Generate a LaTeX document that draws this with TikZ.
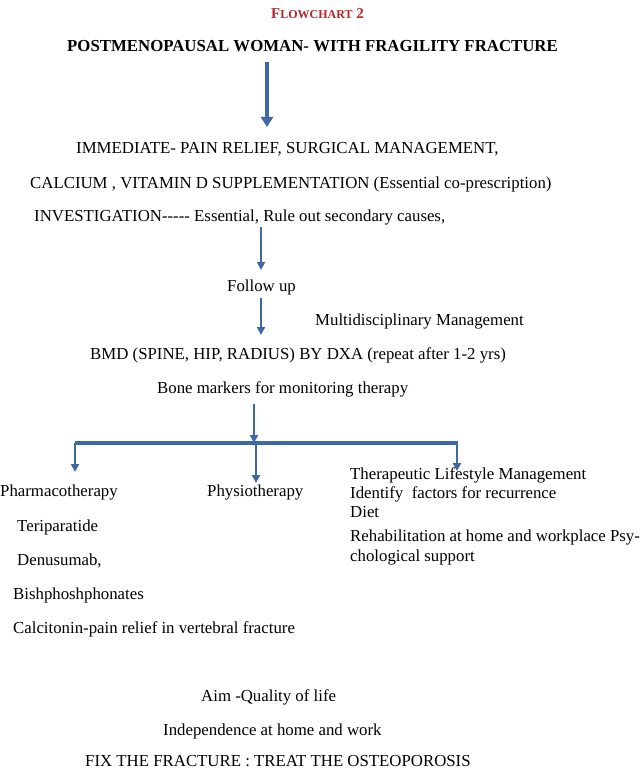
\documentclass[tikz,border=0pt]{standalone}
\usepackage{fontspec}
\setmainfont{Liberation Serif}
\usetikzlibrary{arrows.meta}
\definecolor{flowblue}{RGB}{62,104,166}
\definecolor{chartred}{RGB}{180,36,40}
\tikzset{
  line/.style={anchor=base west, inner sep=0pt},
  flow/.style={draw=flowblue, line width=2.4pt, -{Triangle[width=8pt,length=8pt]}},
  bigflow/.style={flow, line width=4pt, -{Triangle[width=12pt,length=10pt]}},
  bar/.style={draw=flowblue, line width=3.5pt}
}
\newcommand{\fakesc}[1]{{\fontsize{12}{14}\selectfont #1}}

\begin{document}
\begin{tikzpicture}[x=1pt, y=-1pt, font=\fontsize{16.8}{20}\selectfont]
\useasboundingbox (0,0) rectangle (641,770);
% heading
\node[line, text=chartred, font=\fontsize{15}{18}\selectfont\bfseries] (chart) at (271,19) {F\fakesc{LOWCHART} 2};
\node[line, font=\fontsize{16.8}{20}\selectfont\bfseries] (woman) at (67,51.5) {POSTMENOPAUSAL WOMAN- WITH FRAGILITY FRACTURE};

% first steps
\node[line] (immediate) at (76,154) {IMMEDIATE- PAIN RELIEF, SURGICAL MANAGEMENT,};
\node[line] (calcium) at (30,188) {CALCIUM , VITAMIN D SUPPLEMENTATION (Essential co-prescription)};
\node[line] (invest) at (34,221.5) {INVESTIGATION-{}-{}-{}-{}- Essential, Rule out secondary causes,};
\node[line] (follow) at (227,291) {Follow up};
\node[line] (multi) at (315,325) {Multidisciplinary Management};
\node[line] (bmd) at (90,359) {BMD (SPINE, HIP, RADIUS) BY DXA (repeat after 1-2 yrs)};
\node[line] (bone) at (157,393) {Bone markers for monitoring therapy};

% three branches
\node[line] (pharma) at (0,496) {Pharmacotherapy};
\node[line] (terip) at (17,531) {Teriparatide};
\node[line] (denos) at (17,565) {Denusumab,};
\node[line] (bisph) at (13,599) {Bishphoshphonates};
\node[line] (calci) at (13,633) {Calcitonin-pain relief in vertebral fracture};
\node[line] (physio) at (207,496) {Physiotherapy};
\node[line] (tlm) at (350,479) {Therapeutic Lifestyle Management};
\node[line] (recur) at (350,498.5) {Identify\ \ factors for recurrence};
\node[line] (diet) at (350,517) {Diet};
\node[line] (rehab) at (350,541) {Rehabilitation at home and workplace Psy-};
\node[line] (psych) at (350,561.5) {chological support};

% aim
\node[line] (aim) at (201,701) {Aim -Quality of life};
\node[line] (indep) at (163,735.5) {Independence at home and work};
\node[line] (fix) at (85,766.5) {FIX THE FRACTURE : TREAT THE OSTEOPOROSIS};

% arrows
\coordinate (a1) at (267,62);
\coordinate (a1e) at (267,127);
\coordinate (a2) at (261,227);
\coordinate (a2e) at (261,270);
\coordinate (a3) at (261,298);
\coordinate (a3e) at (261,335);
\coordinate (a4) at (254,404);
\coordinate (jc) at (254,443);
\coordinate (jl) at (75,443);
\coordinate (jr) at (458,443);
\coordinate (tl) at (75,472);
\coordinate (tm) at (256,483);
\coordinate (tr) at (457,471);

\draw[bigflow] (a1) -- (a1e);
\draw[flow] (a2) -- (a2e);
\draw[flow] (a3) -- (a3e);
\draw[bar] (jl) -- (jr);
\draw[flow] (a4) -- (jc);
\draw[flow] (jl) -- (tl);
\draw[flow] (jc -| tm) -- (tm);
\draw[flow] (jr -| tr) -- (tr);
\end{tikzpicture}
\end{document}
